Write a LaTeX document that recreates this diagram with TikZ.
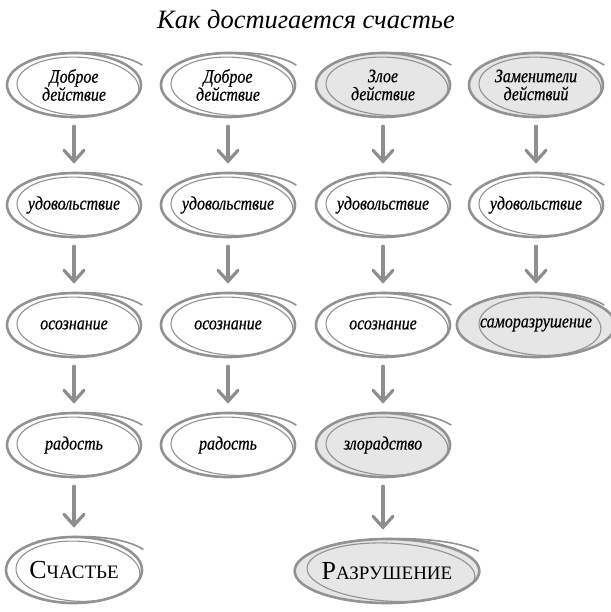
\documentclass[tikz,border=0pt]{standalone}
\usepackage{fontspec}
\setmainfont{Liberation Serif}
\newfontfamily\nodefont[FakeStretch=0.84,FakeBold=0.5]{Liberation Serif}
\usetikzlibrary{shapes.geometric,arrows.meta}
\definecolor{ring}{HTML}{929292}
\definecolor{arr}{HTML}{8E8E8E}
\definecolor{fillg}{HTML}{E6E6E6}
\tikzset{
  oval/.style={ellipse, draw=ring, line width=2.6pt, minimum width=134pt, minimum height=64pt,
    inner sep=0pt, align=center, text=black,
    font=\nodefont\fontsize{19}{18}\selectfont\itshape},
  evil/.style={fill=fillg},
  flow/.style={draw=arr, line width=3.2pt, line cap=round,
    -{Straight Barb[length=11pt,width=20pt,line cap=round]}, shorten <=8pt, shorten >=8pt},
  sketchline/.style={draw=ring, line width=1.1pt},
  title/.style={font=\fontsize{26.5}{26.5}\selectfont\itshape, text=black}
}
\newcommand{\skov}[3]{%
  \draw[sketchline, shift={(#1.center)}, rotate=-3] (4,1) ellipse [x radius=#2-6, y radius=#3-3];
  \draw[ring, line width=1.6pt, shift={(#1.center)}] (-#2*0.55,-#3*0.86) .. controls (0,-#3*1.12) and (#2*0.7,-#3*1.05) .. (#2*1.02,-#3*0.62);
}
\newcommand{\capsA}[2]{{\fontsize{26}{26}\selectfont #1}{\fontsize{19}{19}\selectfont #2}}
\begin{document}
\begin{tikzpicture}[x=1pt,y=-1pt]
\useasboundingbox (0,0) rectangle (610,612);
\node[title] (t) at (306,19) {Как достигается счастье};
% column 1
\node[oval] (a1) at (74,85) {Доброе\\действие};
\node[oval] (a2) at (74,205) {удовольствие};
\node[oval] (a3) at (74,325) {осознание};
\node[oval] (a4) at (74,445) {радость};
\node[oval, minimum width=136pt, minimum height=66pt, font=\normalfont] (a5) at (74,570) {\capsA{С}{ЧАСТЬЕ}};
% column 2
\node[oval] (b1) at (228,85) {Доброе\\действие};
\node[oval] (b2) at (228,205) {удовольствие};
\node[oval] (b3) at (228,325) {осознание};
\node[oval] (b4) at (228,445) {радость};
% column 3
\node[oval,evil] (c1) at (383,85) {Злое\\действие};
\node[oval] (c2) at (383,205) {удовольствие};
\node[oval] (c3) at (383,325) {осознание};
\node[oval,evil] (c4) at (383,445) {злорадство};
\node[oval,evil, minimum width=180pt, minimum height=64pt, font=\normalfont] (c5) at (387,571) {\capsA{Р}{АЗРУШЕНИЕ}};
% column 4
\node[oval,evil] (d1) at (536,85) {Заменители\\действий};
\node[oval] (d2) at (536,205) {удовольствие};
\node[oval,evil] (d3) at (536,325) {саморазрушение};
% sketch strokes
\foreach \n in {a1,a2,a3,a4,b1,b2,b3,b4,c1,c2,c3,c4,d1,d2,d3} {\skov{\n}{67}{32}}
\skov{a5}{68}{33}
\skov{c5}{90}{32}
% arrows
\draw[flow] (a1) -- (a2);
\draw[flow] (a2) -- (a3);
\draw[flow] (a3) -- (a4);
\draw[flow] (a4) -- (a5);
\draw[flow] (b1) -- (b2);
\draw[flow] (b2) -- (b3);
\draw[flow] (b3) -- (b4);
\draw[flow] (c1) -- (c2);
\draw[flow] (c2) -- (c3);
\draw[flow] (c3) -- (c4);
\draw[flow] (c4.south) -- (c4.south |- c5.north);
\draw[flow] (d1) -- (d2);
\draw[flow] (d2) -- (d3);
\end{tikzpicture}
\end{document}
